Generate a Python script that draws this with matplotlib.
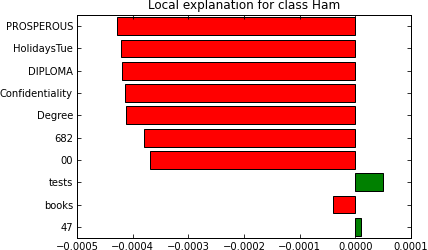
import matplotlib
matplotlib.use('Agg')
import matplotlib.pyplot as plt
from matplotlib.ticker import FuncFormatter

# feature names, top to bottom as shown
features = ['PROSPEROUS', 'HolidaysTue', 'DIPLOMA', 'Confidentiality', 'Degree',
            '682', '00', 'tests', 'books', '47']
weights = [-0.000428, -0.000421, -0.000419, -0.000414, -0.000412,
           -0.000380, -0.000369, 0.000049, -0.000040, 0.0000104]
xticks = [-0.0005, -0.0004, -0.0003, -0.0002, -0.0001, 0.0, 0.0001]

plt.rcParams['font.family'] = 'DejaVu Sans'
plt.rcParams['font.size'] = 10

fig = plt.figure(figsize=(428 / 72, 250 / 72), dpi=72)
ax = fig.add_axes([77 / 428, 12 / 250, 334 / 428, 223 / 250])

# lime draws from bottom to top
vals = weights[::-1]
names = features[::-1]
pos = list(range(len(vals)))
colors = ['green' if v > 0 else 'red' for v in vals]
ax.barh(pos, vals, height=0.8, align='center', color=colors,
        edgecolor='black', linewidth=1)

ax.set_yticks(pos)
ax.set_yticklabels(names)
ax.set_ylim(-0.5, len(vals) - 0.5)
ax.set_xlim(-0.0005, 0.0001)
ax.set_xticks(xticks)
ax.xaxis.set_major_formatter(FuncFormatter(lambda x, p: ('%.4f' % x).replace('-', '\u2212')))
ax.tick_params(direction='in', top=True, right=True, length=4, width=0.8, pad=4)
for s in ax.spines.values():
    s.set_linewidth(1)
ax.set_title('Local explanation for class Ham', fontsize=12)

fig.savefig('out.png', dpi=72)
